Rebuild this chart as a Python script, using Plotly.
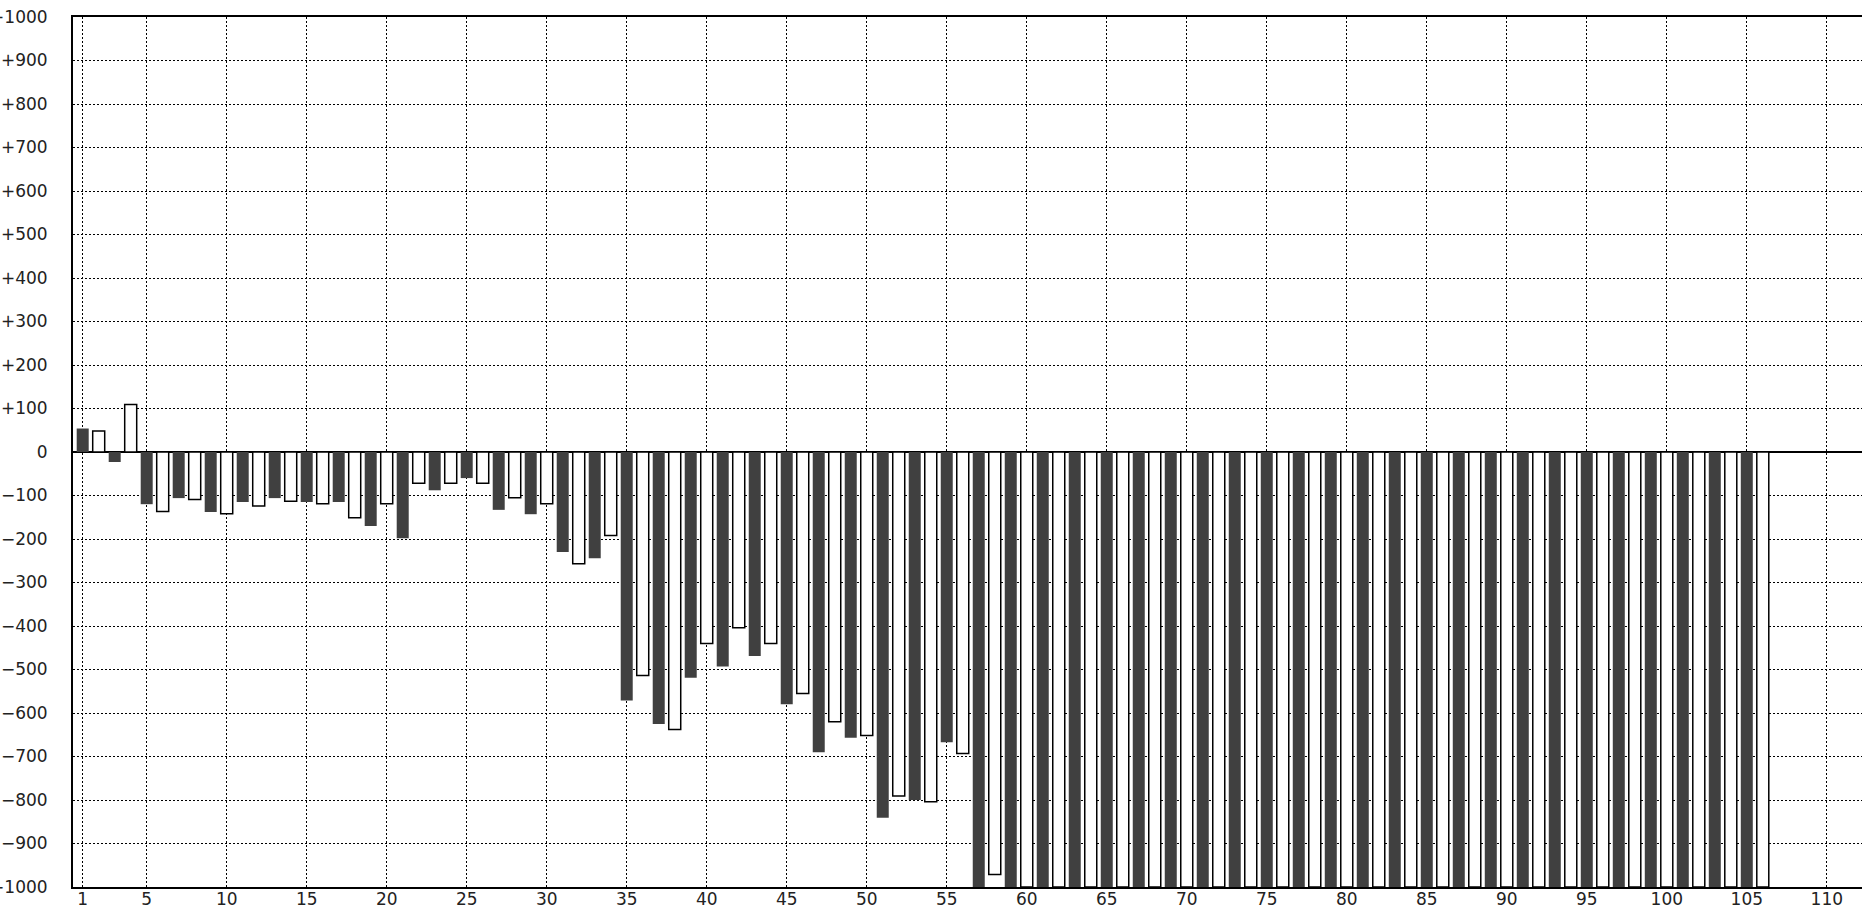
import plotly.graph_objects as go

# ---- data -------------------------------------------------------------
positions = list(range(1, 107))
values = [
    54, 48, -23, 109, -120, -137, -106, -109, -138, -142,
    -115, -124, -106, -113, -115, -119, -115, -151, -170, -119,
    -198, -72, -88, -72, -60, -72, -133, -105, -143, -119,
    -230, -257, -244, -192, -571, -514, -625, -638, -519, -440,
    -493, -404, -469, -440, -580, -555, -690, -620, -657, -652,
    -841, -791, -800, -804, -667, -693, -1000, -971, -1000, -1000,
    -1000, -1000, -1000, -1000, -1000, -1000, -1000, -1000, -1000, -1000,
    -1000, -1000, -1000, -1000, -1000, -1000, -1000, -1000, -1000, -1000,
    -1000, -1000, -1000, -1000, -1000, -1000, -1000, -1000, -1000, -1000,
    -1000, -1000, -1000, -1000, -1000, -1000, -1000, -1000, -1000, -1000,
    -1000, -1000, -1000, -1000, -1000, -1000,
]
x_tickvals = [1, 5, 10, 15, 20, 25, 30, 35, 40, 45, 50, 55, 60, 65, 70, 75,
              80, 85, 90, 95, 100, 105, 110]
x_ticktext = [str(v) for v in x_tickvals]
y_tickvals = [1000, 900, 800, 700, 600, 500, 400, 300, 200, 100, 0,
              -100, -200, -300, -400, -500, -600, -700, -800, -900, -1000]
y_ticktext = ["+1000", "+900", "+800", "+700", "+600", "+500", "+400", "+300",
              "+200", "+100", "0", "\u2212100", "\u2212200", "\u2212300",
              "\u2212400", "\u2212500", "\u2212600", "\u2212700", "\u2212800",
              "\u2212900", "\u22121000"]

dark_x = positions[0::2]
dark_y = values[0::2]
hollow_x = positions[1::2]
hollow_y = values[1::2]

fig = go.Figure()
fig.add_trace(go.Bar(x=dark_x, y=dark_y, width=0.75,
                     marker=dict(color="#404040", line=dict(width=0)),
                     hoverinfo="x+y"))
fig.add_trace(go.Bar(x=hollow_x, y=hollow_y, width=0.75,
                     marker=dict(color="#ffffff", line=dict(color="#000000", width=1.5)),
                     hoverinfo="x+y"))

tick_font = dict(family="DejaVu Sans", size=17, color="#222222")

fig.update_layout(
    width=1862, height=908,
    margin=dict(l=73, r=0, t=17, b=21, pad=0),
    paper_bgcolor="white", plot_bgcolor="white",
    barmode="overlay", showlegend=False,
    xaxis=dict(range=[0.394, 112.2], tickvals=x_tickvals, ticktext=x_ticktext,
               showgrid=True, gridcolor="black", gridwidth=1, griddash="2px,2px",
               showline=True, linecolor="black", linewidth=2, mirror=True,
               ticks="", zeroline=False, tickfont=tick_font,
               ticklabelstandoff=-4, automargin=False),
    yaxis=dict(range=[-1000, 1000], tickvals=y_tickvals, ticktext=y_ticktext,
               showgrid=True, gridcolor="black", gridwidth=1, griddash="2px,2px",
               showline=True, linecolor="black", linewidth=2,
               zeroline=True, zerolinecolor="black", zerolinewidth=2,
               ticks="", tickfont=tick_font, ticklabelstandoff=20,
               automargin=False),
)

fig.write_html("out.html", config={"displayModeBar": False},
               post_script="document.body.style.margin='0';document.body.style.overflow='hidden';")
